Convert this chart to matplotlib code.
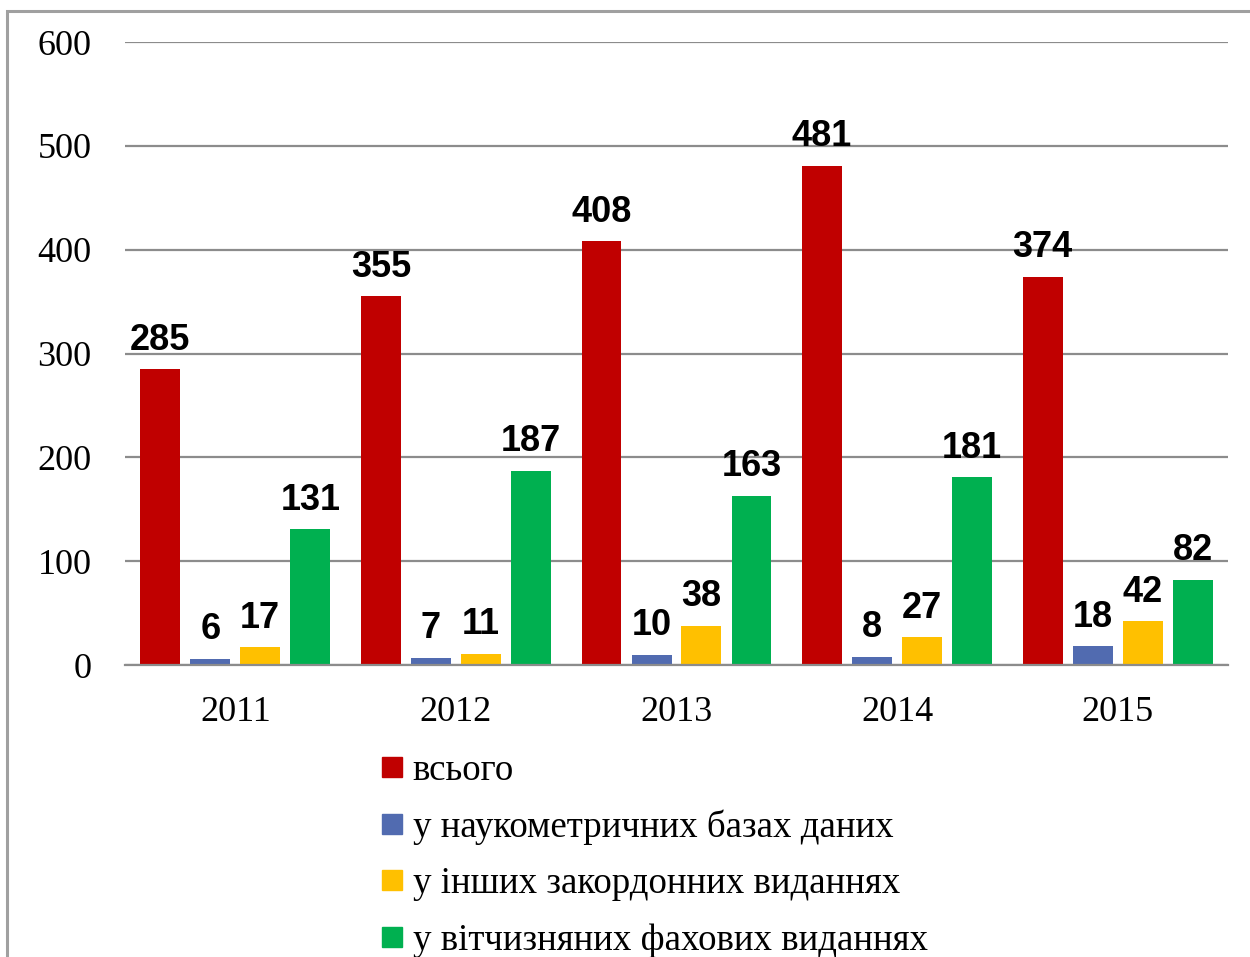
import matplotlib.pyplot as plt
from matplotlib.lines import Line2D
from matplotlib.patches import Rectangle
import numpy as np

# dane
years = ["2011", "2012", "2013", "2014", "2015"]
vsogo = [285, 355, 408, 481, 374]
naukometr = [6, 7, 10, 8, 18]
inshi = [17, 11, 38, 27, 42]
vitchyzn = [131, 187, 163, 181, 82]

series_names = ["всього", "у наукометричних базах даних",
                "у інших закордонних виданнях", "у вітчизняних фахових виданнях"]
colors = ["#C00000", "#516BB0", "#FFC000", "#00B050"]

fig = plt.figure(figsize=(12.5, 9.57), dpi=100)
ax = fig.add_axes([0.1, 0.3051, 0.8824, 0.651])

x = np.arange(len(years))
width = 0.181
offsets = [-0.34, -0.113, 0.113, 0.34]

for vals, off, col in zip([vsogo, naukometr, inshi, vitchyzn], offsets, colors):
    bars = ax.bar(x + off, vals, width, color=col, zorder=3)
    for b, v in zip(bars, vals):
        ax.annotate(str(v), (b.get_x() + b.get_width() / 2, v),
                    xytext=(0, 14), textcoords="offset points",
                    ha="center", va="baseline", fontsize=26, fontweight="bold",
                    family="Liberation Sans", zorder=4)

ax.set_xlim(-0.5, 4.5)
ax.set_ylim(0, 600)
ax.set_yticks(range(0, 601, 100))
ax.set_xticks(x)
ax.set_xticklabels(years)
ax.tick_params(length=0, labelsize=26)
ax.tick_params(axis="y", pad=24)
ax.tick_params(axis="x", pad=22.5)
for lab in ax.get_xticklabels() + ax.get_yticklabels():
    lab.set_family("Liberation Serif")

ax.grid(axis="y", color="#8c8c8c", linewidth=1.6, zorder=0)
for s in ["top", "right", "left"]:
    ax.spines[s].set_visible(False)
ax.spines["bottom"].set_color("#8c8c8c")
ax.spines["bottom"].set_linewidth(1.6)
ax.spines["bottom"].set_zorder(5)

# legenda
handles = [Line2D([], [], marker="s", linestyle="none", markersize=14,
                  markerfacecolor=c, markeredgecolor=c) for c in colors]
leg = fig.legend(handles, series_names, loc="upper left",
                 bbox_to_anchor=(0.305, 0.213), frameon=False,
                 prop={"family": "Liberation Serif", "size": 26.6},
                 handlelength=0.6, handletextpad=0.25, labelspacing=0.59,
                 borderpad=0, borderaxespad=0)

# ramka wykresu
fig.patches.append(Rectangle((7 / 1250, -0.05), 1.2, 1 - 11 / 957 + 0.05,
                             transform=fig.transFigure, fill=False,
                             edgecolor="#a0a0a0", linewidth=2.2))

fig.savefig("out.png", dpi=100)
